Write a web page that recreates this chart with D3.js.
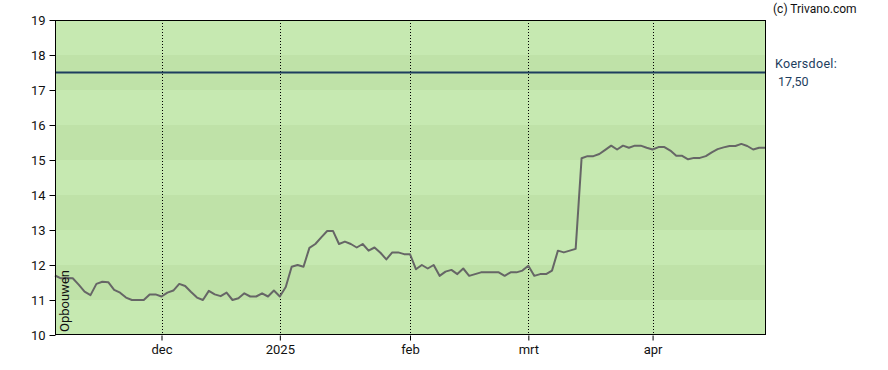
<!DOCTYPE html>
<html><head><meta charset="utf-8">
<script src="https://cdn.jsdelivr.net/npm/d3@7"></script>
<style>body{margin:0;background:#fff;} svg{display:block;font-family:Roboto, "Liberation Sans", sans-serif;}</style>
</head><body><div id="chart"></div>
<script>
const prices = [11.70,11.62,11.63,11.62,11.44,11.24,11.14,11.46,11.52,11.51,
11.29,11.21,11.07,11.00,11.00,11.00,11.16,11.16,11.10,11.21,
11.27,11.46,11.40,11.23,11.07,11.00,11.26,11.16,11.11,11.21,
11.00,11.05,11.19,11.10,11.10,11.19,11.10,11.27,11.10,11.37,
11.95,12.00,11.95,12.49,12.60,12.79,12.97,12.97,12.60,12.67,
12.60,12.50,12.60,12.41,12.50,12.35,12.16,12.36,12.36,12.31,
12.31,11.88,12.00,11.90,12.00,11.69,11.81,11.86,11.74,11.90,
11.69,11.74,11.79,11.79,11.79,11.79,11.69,11.79,11.79,11.84,
11.98,11.69,11.74,11.74,11.84,12.41,12.36,12.41,12.46,15.05,
15.11,15.11,15.17,15.29,15.41,15.30,15.41,15.35,15.41,15.41,
15.35,15.30,15.37,15.37,15.27,15.12,15.12,15.02,15.06,15.06,
15.11,15.22,15.31,15.36,15.40,15.40,15.46,15.40,15.30,15.35,15.35];
const monthLabels = ["dec","2025","feb","mrt","apr"];
const monthIndex = [18,38,60,80,101];
const yTicks = [10,11,12,13,14,15,16,17,18,19];
const target = 17.5;
const targetLabel = ["Koersdoel:","17,50"];

const W=888,H=370, m={l:55,r:123,t:20,b:35};
const svg=d3.select("#chart").append("svg").attr("width",W).attr("height",H);
const x=d3.scaleLinear().domain([0,prices.length-1]).range([m.l,W-m.r]);
const y=d3.scaleLinear().domain([10,19]).range([H-m.b,m.t]);

// bands
const bands = d3.range(10,19);
svg.selectAll("rect.band").data(bands).enter().append("rect")
  .attr("x",m.l).attr("width",W-m.r-m.l)
  .attr("y",d=>y(d+1)).attr("height",d=>y(d)-y(d+1))
  .attr("fill",d=>(d%2===1)?"#bfe2a8":"#c6e9b1");

// vertical dotted grid
svg.selectAll("line.vg").data(monthIndex).enter().append("line")
  .attr("x1",d=>Math.round(x(d))+0.5).attr("x2",d=>Math.round(x(d))+0.5)
  .attr("y1",m.t).attr("y2",H-m.b)
  .attr("stroke","#000").attr("stroke-width",1).attr("stroke-dasharray","1,2");

// target line
svg.append("line").attr("x1",m.l).attr("x2",W-m.r).attr("y1",y(target)).attr("y2",y(target))
  .attr("stroke","#1d3d5e").attr("stroke-width",2.2);

// price line
svg.append("path").datum(prices)
  .attr("d",d3.line().x((d,i)=>x(i)).y(d=>y(d)))
  .attr("fill","none").attr("stroke","#666").attr("stroke-width",2).attr("stroke-linejoin","round");

// frame
svg.append("rect").attr("x",m.l+0.5).attr("y",m.t+0.5).attr("width",W-m.r-m.l).attr("height",H-m.b-m.t-1)
  .attr("fill","none").attr("stroke","#000").attr("stroke-width",1);

// axes
const ya=svg.append("g").attr("transform",`translate(${m.l+0.5},0)`)
  .call(d3.axisLeft(y).tickValues(yTicks).tickSize(6).tickPadding(4).tickFormat(d3.format("d")));
ya.select(".domain").remove();
ya.selectAll("text").attr("font-size",13).attr("fill","#111").attr("font-family","Roboto, sans-serif");
const xa=svg.append("g").attr("transform",`translate(0,${H-m.b+0.5})`)
  .call(d3.axisBottom(x).tickValues(monthIndex).tickSize(5).tickPadding(4)
    .tickFormat((d,i)=>monthLabels[i]));
xa.select(".domain").remove();
xa.selectAll("text").attr("font-size",13).attr("fill","#111").attr("font-family","Roboto, sans-serif");

// texts
svg.append("text").attr("transform",`translate(${m.l+14},${H-m.b-3}) rotate(-90)`)
  .attr("font-size",13).attr("fill","#111").text("Opbouwen");
svg.append("text").attr("x",773).attr("y",13).attr("font-size",12).attr("fill","#111").text("(c) Trivano.com");
svg.append("text").attr("x",775).attr("y",68).attr("font-size",12.5).attr("fill","#1d3d5e").attr("letter-spacing",0.3).text(targetLabel[0]);
svg.append("text").attr("x",778).attr("y",86).attr("font-size",12.5).attr("fill","#1d3d5e").text(targetLabel[1]);
</script></body></html>
